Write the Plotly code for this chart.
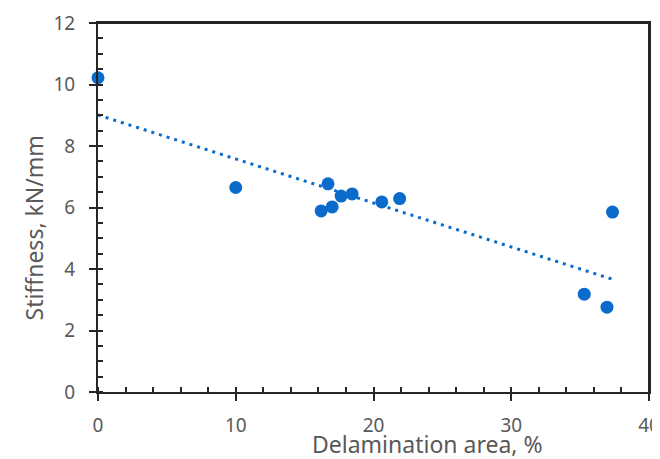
import numpy as np
import plotly.graph_objects as go

delam_area = [0.0, 10.0, 16.2, 16.7, 17.0, 17.65, 18.45, 20.6, 21.9, 35.3, 36.95, 37.35]
stiffness = [10.22, 6.65, 5.89, 6.77, 6.02, 6.37, 6.44, 6.18, 6.29, 3.18, 2.76, 5.85]

x_ticks = [0, 10, 20, 30, 40]
y_ticks = [0, 2, 4, 6, 8, 10, 12]
x_range = [0, 40]
y_range = [0, 12]

blue = "#0A6BCB"
axis_col = "#262626"
txt_col = "#595959"
font = "Noto Sans"

slope, intercept = np.polyfit(delam_area, stiffness, 1)
xf = np.array([min(delam_area), max(delam_area)])
yf = slope * xf + intercept

fig = go.Figure()
# plot frame (top and right edges), built from the axis ranges
fig.add_trace(go.Scatter(x=[x_range[0], x_range[1], x_range[1]],
                         y=[y_range[1], y_range[1], y_range[0]],
                         mode="lines", line=dict(color=axis_col, width=2),
                         cliponaxis=False, hoverinfo="skip", showlegend=False))
fig.add_trace(go.Scatter(x=xf, y=yf, mode="lines",
                         line=dict(color=blue, width=3, dash="3px,5px"),
                         hoverinfo="skip", showlegend=False))
fig.add_trace(go.Scatter(x=delam_area, y=stiffness, mode="markers",
                         marker=dict(color=blue, size=13, line=dict(width=0)),
                         cliponaxis=False, showlegend=False))

common = dict(showline=True, linecolor=axis_col, linewidth=2, showgrid=False,
              zeroline=False, automargin=False, mirror=True)
fig.update_layout(
    width=652, height=451,
    margin=dict(l=90, r=11, t=15, b=67),
    plot_bgcolor="white", paper_bgcolor="white",
    xaxis=dict(range=x_range, tickvals=x_ticks, ticks="outside", ticklen=7,
               tickwidth=2, tickcolor=axis_col,
               minor=dict(dtick=2, ticks="inside", ticklen=5, tickwidth=2,
                          tickcolor=axis_col),
               tickfont=dict(family=font, size=19, color=txt_col),
               ticklabeloverflow="allow",
               ticklabelstandoff=8, **common),
    yaxis=dict(range=y_range, tickvals=y_ticks, ticks="outside", ticklen=7,
               tickwidth=2, tickcolor=axis_col,
               minor=dict(dtick=0.5, ticks="inside", ticklen=5, tickwidth=2,
                          tickcolor=axis_col),
               tickfont=dict(family=font, size=19, color=txt_col),
               ticklabelstandoff=10, **common),
    annotations=[
        dict(text="Delamination area, %", xref="paper", yref="paper",
             x=(427 - 98) / 551, y=(392 - 444) / 369, xanchor="center",
             yanchor="middle",
             showarrow=False, font=dict(family=font, size=23, color=txt_col)),
        dict(text="Stiffness, kN/mm", xref="paper", yref="paper",
             x=(33 - 98) / 551, y=(392 - 228.5) / 369, textangle=-90,
             xanchor="center", yanchor="middle",
             showarrow=False, font=dict(family=font, size=23, color=txt_col)),
    ],
)

fig.write_html("out.html")
